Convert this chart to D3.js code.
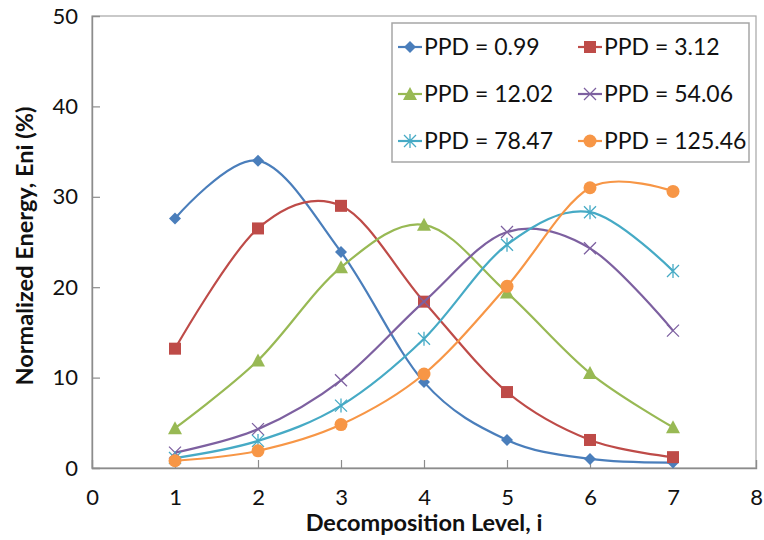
<!DOCTYPE html>
<html lang="en">
<head>
<meta charset="UTF-8">
<title>Normalized Energy</title>
<style>
  body { margin: 0; background: #fff; }
  svg text { font-family: Lato, "Open Sans", sans-serif; fill: #111; }
</style>
</head>
<body>
<div id="container"></div>
<script src="https://d3js.org/d3.v7.min.js"></script>
<script>
// Decomposition levels on the x axis
var levels = [1, 2, 3, 4, 5, 6, 7];

// Normalized energy (%) for each PPD value
var ppd099 = [27.6, 34.0, 23.9, 9.5, 3.1, 1.0, 0.6];
var ppd312 = [13.2, 26.5, 29.0, 18.4, 8.4, 3.1, 1.2];
var ppd1202 = [4.4, 11.9, 22.2, 26.9, 19.4, 10.5, 4.5];
var ppd5406 = [1.7, 4.3, 9.7, 18.4, 26.1, 24.3, 15.2];
var ppd7847 = [1.1, 3.0, 6.9, 14.3, 24.7, 28.3, 21.8];
var ppd12546 = [0.8, 1.9, 4.8, 10.4, 20.1, 31.0, 30.6];

var seriesNames = ["PPD = 0.99", "PPD = 3.12", "PPD = 12.02", "PPD = 54.06", "PPD = 78.47", "PPD = 125.46"];
var xTicks = [0, 1, 2, 3, 4, 5, 6, 7, 8];
var yTicks = [0, 10, 20, 30, 40, 50];

var series = [
    { name: seriesNames[0], values: ppd099, color: "#4a7ebb", marker: "diamond" },
    { name: seriesNames[1], values: ppd312, color: "#be4b48", marker: "square" },
    { name: seriesNames[2], values: ppd1202, color: "#98b954", marker: "triangle" },
    { name: seriesNames[3], values: ppd5406, color: "#7d60a0", marker: "x" },
    { name: seriesNames[4], values: ppd7847, color: "#46aac5", marker: "star" },
    { name: seriesNames[5], values: ppd12546, color: "#f79646", marker: "circle" }
];

var width = 764, height = 540;
var margin = { top: 16, right: 8, bottom: 72, left: 92 };

var svg = d3.select("#container").append("svg")
    .attr("width", width)
    .attr("height", height);

var x = d3.scaleLinear().domain([0, 8]).range([margin.left, width - margin.right]);
var y = d3.scaleLinear().domain([0, 50]).range([height - margin.bottom, margin.top]);

// Plot area frame
svg.append("rect")
    .attr("x", x(0)).attr("y", y(50))
    .attr("width", x(8) - x(0)).attr("height", y(0) - y(50))
    .attr("fill", "none").attr("stroke", "#a6a6a6").attr("stroke-width", 1.2);

// Axes with inside ticks
var xAxis = svg.append("g")
    .attr("transform", "translate(0," + y(0) + ")")
    .call(d3.axisBottom(x).tickValues(xTicks).tickSize(-8).tickPadding(21));
var yAxis = svg.append("g")
    .attr("transform", "translate(" + x(0) + ",0)")
    .call(d3.axisLeft(y).tickValues(yTicks).tickSize(-8).tickPadding(14));

[xAxis, yAxis].forEach(function (ax) {
    ax.select(".domain").attr("stroke", "#8c8c8c").attr("stroke-width", 1.4);
    ax.selectAll(".tick line").attr("stroke", "#8c8c8c").attr("stroke-width", 1.2);
    ax.selectAll(".tick text").style("font-size", "22px").attr("fill", "#111");
});
// hide ticks at the ends
xAxis.selectAll(".tick line").filter(function (d) { return d === 0 || d === 8; }).remove();
yAxis.selectAll(".tick line").filter(function (d) { return d === 0 || d === 50; }).remove();

// Axis titles
svg.append("text")
    .attr("x", (x(0) + x(8)) / 2).attr("y", 531)
    .attr("text-anchor", "middle")
    .style("font-size", "23.5px").style("font-weight", "bold")
    .text("Decomposition Level, i");

svg.append("text")
    .attr("transform", "translate(33," + ((y(0) + y(50)) / 2 + 4) + ") rotate(-90)")
    .attr("text-anchor", "middle")
    .style("font-size", "23.5px").style("font-weight", "bold")
    .text("Normalized Energy, Eni (%)");

// Smooth lines like the spreadsheet's smoothed line chart
var line = d3.line()
    .x(function (d, i) { return x(levels[i]); })
    .y(function (d) { return y(d); })
    .curve(d3.curveCardinal.tension(0));

function drawMarker(g, type, color) {
    if (type === "diamond") {
        g.append("path").attr("d", "M0,-6L6,0L0,6L-6,0Z").attr("fill", color);
    } else if (type === "square") {
        g.append("rect").attr("x", -6).attr("y", -6).attr("width", 12).attr("height", 12)
            .attr("fill", color);
    } else if (type === "triangle") {
        g.append("path").attr("d", "M0,-7L7,6L-7,6Z").attr("fill", color);
    } else if (type === "circle") {
        g.append("circle").attr("r", 6.5).attr("fill", color);
    } else if (type === "x") {
        g.append("path").attr("d", "M-6,-6L6,6M-6,6L6,-6")
            .attr("stroke", color).attr("stroke-width", 1.3).attr("fill", "none");
    } else if (type === "star") {
        g.append("path").attr("d", "M-6,-6L6,6M-6,6L6,-6M0,-7L0,7")
            .attr("stroke", color).attr("stroke-width", 1.3).attr("fill", "none");
    }
}

series.forEach(function (s) {
    svg.append("path")
        .datum(s.values)
        .attr("d", line)
        .attr("fill", "none")
        .attr("stroke", s.color)
        .attr("stroke-width", 2.2);

    s.values.forEach(function (v, i) {
        var g = svg.append("g").attr("transform", "translate(" + x(levels[i]) + "," + y(v) + ")");
        drawMarker(g, s.marker, s.color);
    });
});

// Legend
var legend = svg.append("g");
legend.append("rect")
    .attr("x", 392).attr("y", 23).attr("width", 357).attr("height", 139)
    .attr("fill", "#fff").attr("stroke", "#a6a6a6").attr("stroke-width", 1.5);

series.forEach(function (s, i) {
    var col = i % 2, row = Math.floor(i / 2);
    var lx = 398 + col * 180, ly = 47 + row * 47;
    var g = legend.append("g").attr("transform", "translate(" + lx + "," + ly + ")");
    g.append("line").attr("x1", 0).attr("x2", 24).attr("y1", 0).attr("y2", 0)
        .attr("stroke", s.color).attr("stroke-width", 2.2);
    drawMarker(g.append("g").attr("transform", "translate(12,0)"), s.marker, s.color);
    g.append("text").attr("x", 26).attr("y", 8)
        .style("font-size", "23px")
        .text(s.name);
});
</script>
</body>
</html>
